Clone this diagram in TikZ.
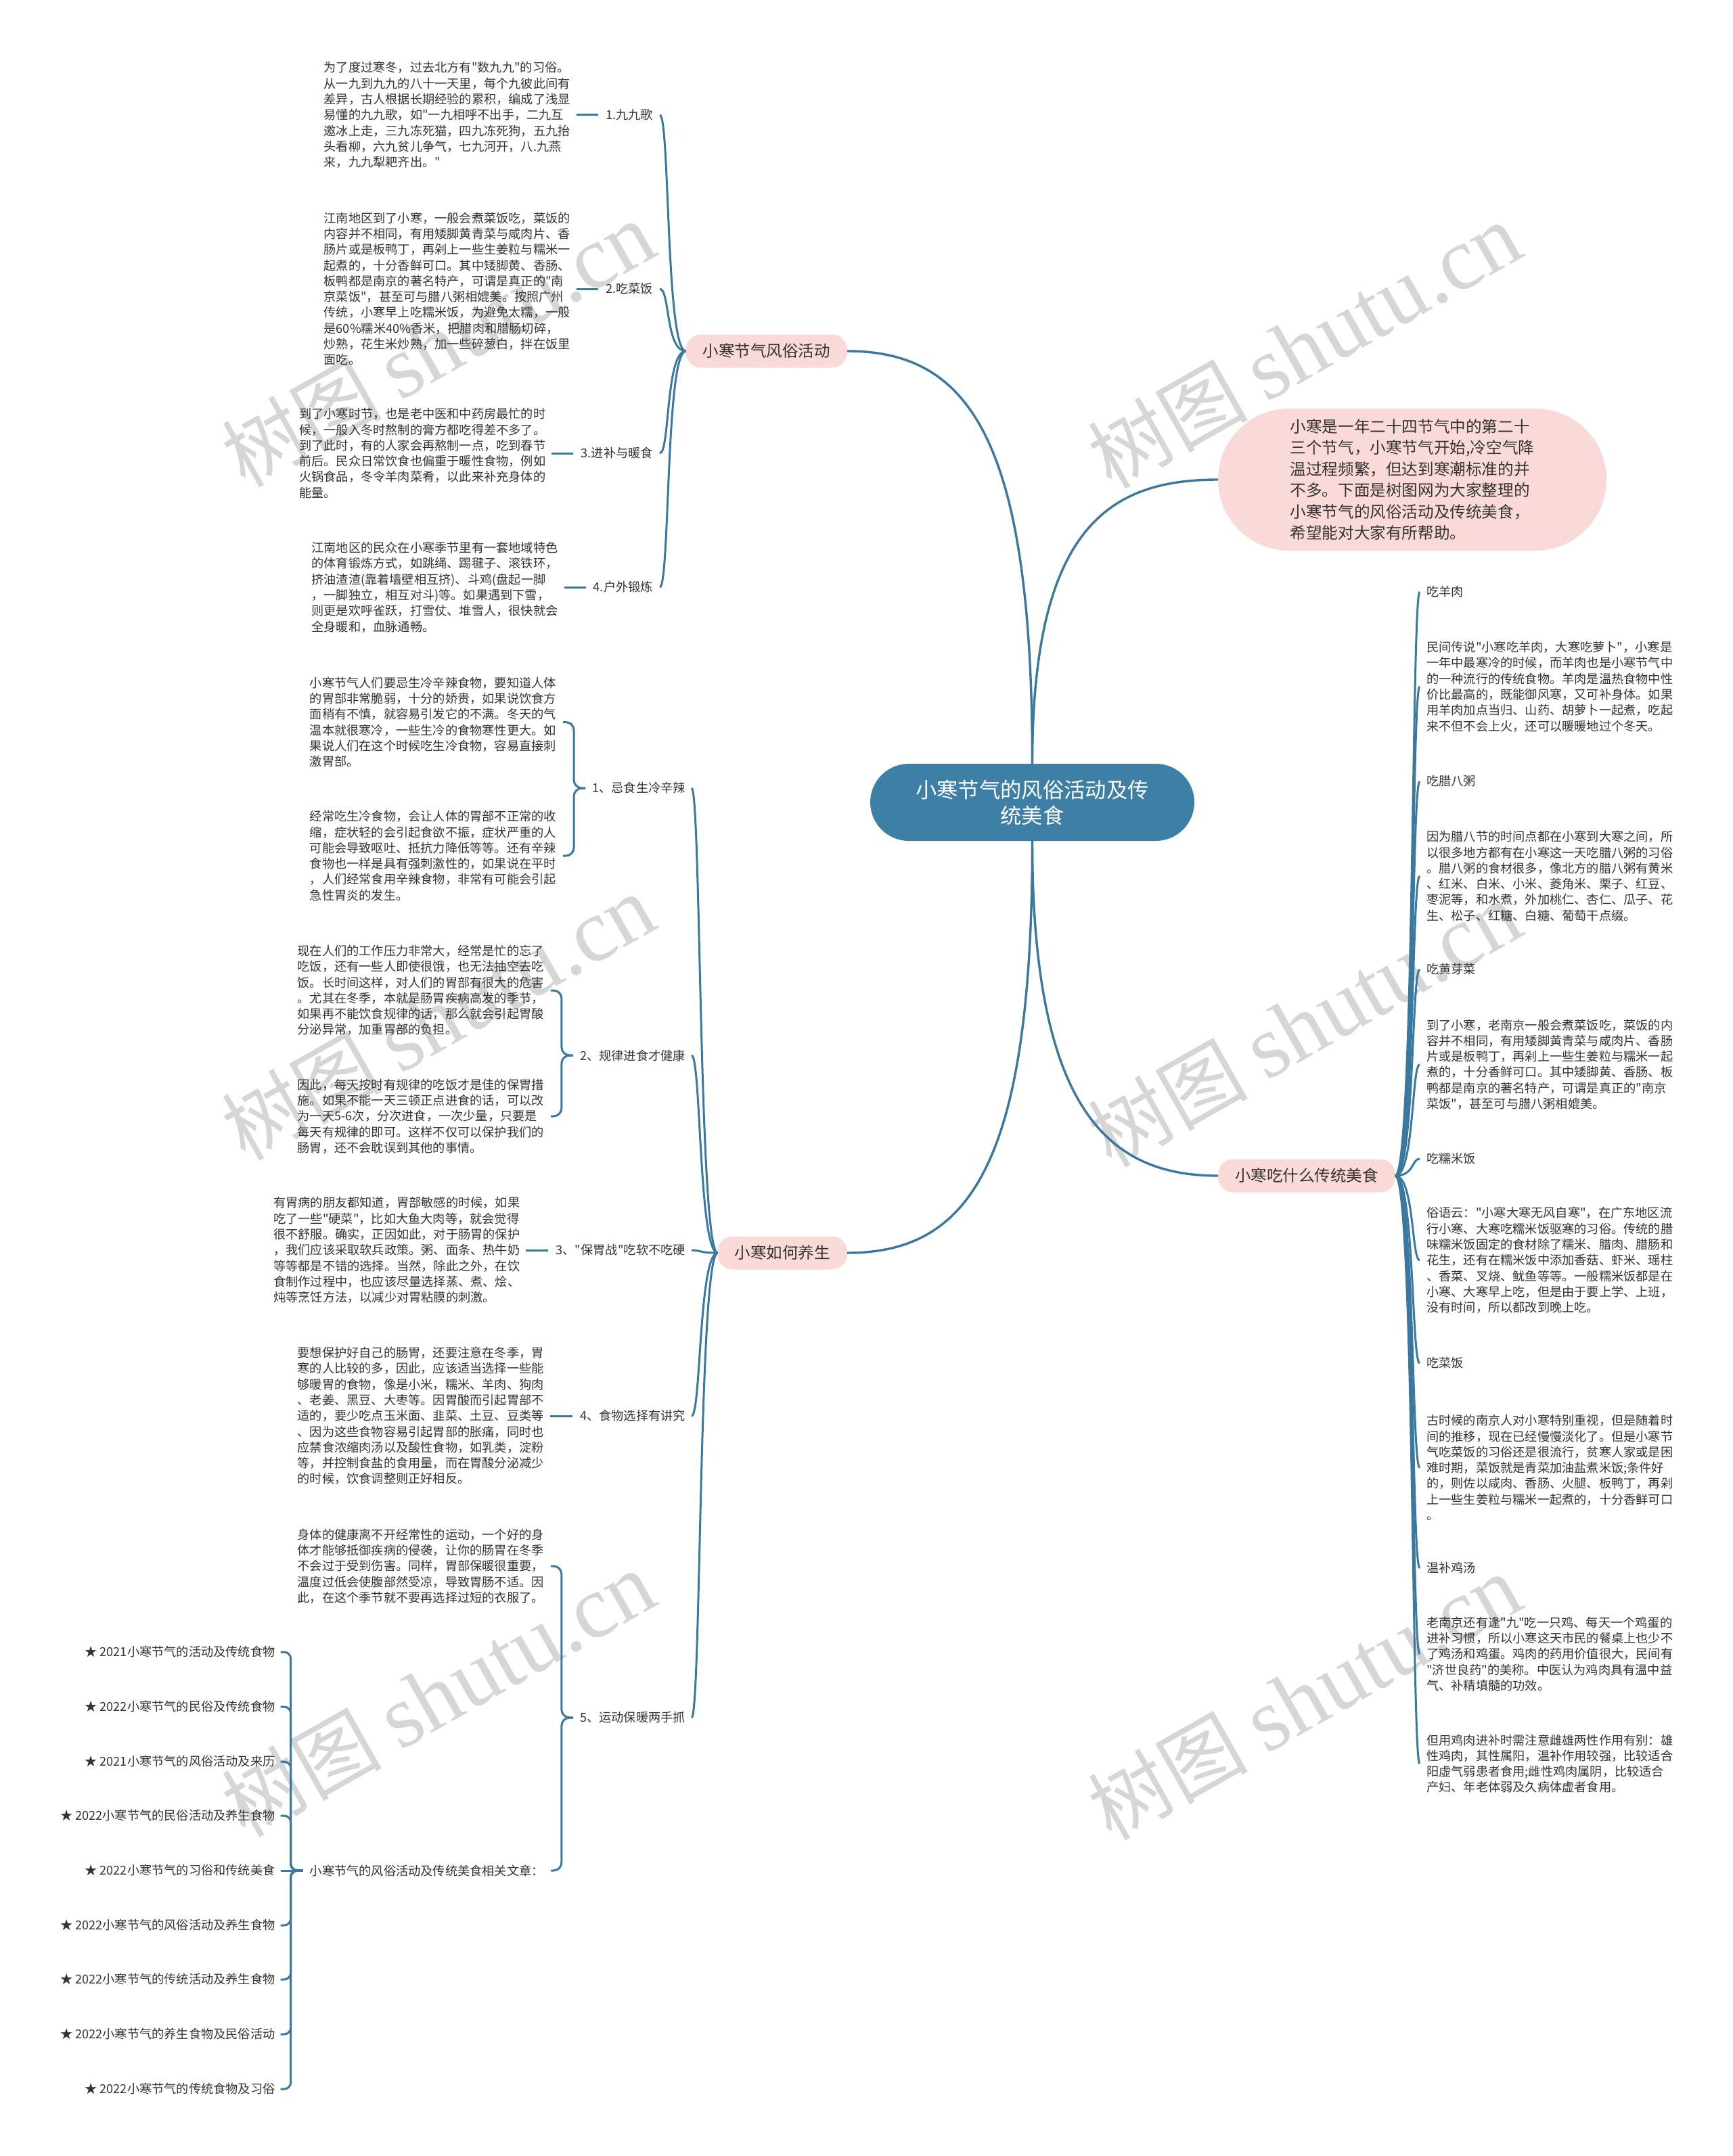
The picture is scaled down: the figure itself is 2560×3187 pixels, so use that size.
\documentclass[tikz,border=0pt]{standalone}
\usepackage{fontspec}
\setmainfont{Noto Sans CJK SC}[Ligatures=TeXOff]
\newfontfamily\wmlatin{Liberation Serif}
\definecolor{lineblue}{HTML}{3A78A0}
\definecolor{centblue}{HTML}{3E7FA6}
\definecolor{pinkbg}{HTML}{FAD9D9}
\definecolor{txtc}{HTML}{333333}
\begin{document}
\begin{tikzpicture}[x=1pt,y=-1pt,
 conn/.style={draw=lineblue,line width=3pt},
 maincon/.style={draw=lineblue,line width=3.4pt},
 txt/.style={align=left,inner sep=0pt,text=txtc,font=\fontsize{18.2}{23.3}\selectfont},
 lab/.style={inner sep=0pt,text=txtc,font=\fontsize{18.2}{23.3}\selectfont},
 branch/.style={fill=pinkbg,rounded corners=22pt,minimum height=49pt,inner xsep=25pt,inner ysep=0pt,text=txtc,font=\fontsize{23.5}{28}\selectfont},
 intro/.style={fill=pinkbg,rounded corners=105pt,minimum width=574pt,minimum height=210pt,inner sep=0pt,align=left,text=txtc,font=\fontsize{23.6}{31.5}\selectfont},
 central/.style={fill=centblue,rounded corners=57pt,minimum width=479pt,minimum height=114pt,inner sep=0pt,align=center,text=white,font=\fontsize{31.3}{38}\selectfont},
 wm/.style={rotate=29.5,text=black!16,inner sep=0pt,font=\fontsize{118}{118}\selectfont}
]
\useasboundingbox (0,0) rectangle (2560,3187);
\fill[white] (0,0) rectangle (2560,3187);

% watermarks
\node[wm] (W1) at (648,510) {树图 {\wmlatin\fontsize{132}{132}\selectfont shutu.cn}};
\node[wm] (W2) at (1928,512) {树图 {\wmlatin\fontsize{132}{132}\selectfont shutu.cn}};
\node[wm] (W3) at (648,1505) {树图 {\wmlatin\fontsize{132}{132}\selectfont shutu.cn}};
\node[wm] (W4) at (1928,1515) {树图 {\wmlatin\fontsize{132}{132}\selectfont shutu.cn}};
\node[wm] (W5) at (648,2505) {树图 {\wmlatin\fontsize{132}{132}\selectfont shutu.cn}};
\node[wm] (W6) at (1928,2510) {树图 {\wmlatin\fontsize{132}{132}\selectfont shutu.cn}};

% central, intro, branches
\node[central] (C) at (1525.5,1186) {小寒节气的风俗活动及传\\统美食};
\node[intro] (I) at (2087,709) {小寒是一年二十四节气中的第二十\\
三个节气，小寒节气开始,冷空气降\\
温过程频繁，但达到寒潮标准的并\\
不多。下面是树图网为大家整理的\\
小寒节气的风俗活动及传统美食，\\
希望能对大家有所帮助。};
\node[branch,anchor=east] (BA) at (1252,519) {小寒节气风俗活动};
\node[branch,anchor=east] (BB) at (1252,1852) {小寒如何养生};
\node[branch,anchor=west] (BC) at (1800,1738) {小寒吃什么传统美食};

\draw[maincon] (C.north) .. controls +(0,-480) and +(180,0) .. (BA.east);
\draw[maincon] (C.north) .. controls +(0,-350) and +(-160,0) .. (I.west);
\draw[maincon] (C.south) .. controls +(0,480) and +(180,0) .. (BB.east);
\draw[maincon] (C.south) .. controls +(0,400) and +(-160,0) .. (BC.west);

% ---------- branch A ----------
\node[lab,anchor=east] (A1) at (965,170) {1.九九歌};
\node[lab,anchor=east] (A2) at (965,427) {2.吃菜饭};
\node[lab,anchor=east] (A3) at (965,670) {3.进补与暖食};
\node[lab,anchor=east] (A4) at (965,868) {4.户外锻炼};

\node[txt,anchor=east] (A1t) at ([xshift=-52pt]A1.west) {为了度过寒冬，过去北方有"数九九"的习俗。\\
从一九到九九的八十一天里，每个九彼此间有\\
差异，古人根据长期经验的累积，编成了浅显\\
易懂的九九歌，如"一九相呼不出手，二九互\\
邀冰上走，三九冻死猫，四九冻死狗，五九抬\\
头看柳，六九贫儿争气，七九河开，八.九燕\\
来，九九犁耙齐出。"};
\node[txt,anchor=east] (A2t) at ([xshift=-52pt]A2.west) {江南地区到了小寒，一般会煮菜饭吃，菜饭的\\
内容并不相同，有用矮脚黄青菜与咸肉片、香\\
肠片或是板鸭丁，再剁上一些生姜粒与糯米一\\
起煮的，十分香鲜可口。其中矮脚黄、香肠、\\
板鸭都是南京的著名特产，可谓是真正的"南\\
京菜饭"，甚至可与腊八粥相媲美。按照广州\\
传统，小寒早上吃糯米饭，为避免太糯，一般\\
是60\%糯米40\%香米，把腊肉和腊肠切碎，\\
炒熟，花生米炒熟，加一些碎葱白，拌在饭里\\
面吃。};
\node[txt,anchor=east] (A3t) at ([xshift=-52pt]A3.west) {到了小寒时节，也是老中医和中药房最忙的时\\
候，一般入冬时熬制的膏方都吃得差不多了。\\
到了此时，有的人家会再熬制一点，吃到春节\\
前后。民众日常饮食也偏重于暖性食物，例如\\
火锅食品，冬令羊肉菜肴，以此来补充身体的\\
能量。};
\node[txt,anchor=east] (A4t) at ([xshift=-52pt]A4.west) {江南地区的民众在小寒季节里有一套地域特色\\
的体育锻炼方式，如跳绳、踢毽子、滚铁环，\\
挤油渣渣(靠着墙壁相互挤)、斗鸡(盘起一脚\\
，一脚独立，相互对斗)等。如果遇到下雪，\\
则更是欢呼雀跃，打雪仗、堆雪人，很快就会\\
全身暖和，血脉通畅。};

\foreach \n in {A1,A2,A3,A4}{
  \draw[conn] (BA.west) .. controls +(-30,0) and +(15,0) .. ([xshift=10pt]\n.east);
  \draw[conn] ([xshift=-11pt]\n.west) -- ([xshift=9pt]\n t.east);
}

% ---------- branch B ----------
\node[lab,anchor=east] (M1) at (1013,1165) {1、忌食生冷辛辣};
\node[lab,anchor=east] (M2) at (1013,1560) {2、规律进食才健康};
\node[lab,anchor=east] (M3) at (1013,1848) {3、"保胃战"吃软不吃硬};
\node[lab,anchor=east] (M4) at (1013,2093) {4、食物选择有讲究};
\node[lab,anchor=east] (M5) at (1013,2539) {5、运动保暖两手抓};

\foreach \n in {M1,M2,M3,M4,M5}{
  \draw[conn] (BB.west) .. controls +(-28,0) and +(14,0) .. ([xshift=9pt]\n.east);
}

\node[txt,anchor=east] (M1a) at ([xshift=-53pt,yshift=97.5pt]M1.west) {小寒节气人们要忌生冷辛辣食物，要知道人体\\
的胃部非常脆弱，十分的娇贵，如果说饮食方\\
面稍有不慎，就容易引发它的不满。冬天的气\\
温本就很寒冷，一些生冷的食物寒性更大。如\\
果说人们在这个时候吃生冷食物，容易直接刺\\
激胃部。};
\node[txt,anchor=east] (M1b) at ([xshift=-53pt,yshift=-100pt]M1.west) {经常吃生冷食物，会让人体的胃部不正常的收\\
缩，症状轻的会引起食欲不振，症状严重的人\\
可能会导致呕吐、抵抗力降低等等。还有辛辣\\
食物也一样是具有强刺激性的，如果说在平时\\
，人们经常食用辛辣食物，非常有可能会引起\\
急性胃炎的发生。};
\node[txt,anchor=east] (M2a) at ([xshift=-53pt,yshift=96pt]M2.west) {现在人们的工作压力非常大，经常是忙的忘了\\
吃饭，还有一些人即使很饿，也无法抽空去吃\\
饭。长时间这样，对人们的胃部有很大的危害\\
。尤其在冬季，本就是肠胃疾病高发的季节，\\
如果再不能饮食规律的话，那么就会引起胃酸\\
分泌异常，加重胃部的负担。};
\node[txt,anchor=east] (M2b) at ([xshift=-53pt,yshift=-90pt]M2.west) {因此，每天按时有规律的吃饭才是佳的保胃措\\
施。如果不能一天三顿正点进食的话，可以改\\
为一天5-6次，分次进食，一次少量，只要是\\
每天有规律的即可。这样不仅可以保护我们的\\
肠胃，还不会耽误到其他的事情。};
\node[txt,anchor=east] (M3t) at ([xshift=-53pt]M3.west) {有胃病的朋友都知道，胃部敏感的时候，如果\\
吃了一些"硬菜"，比如大鱼大肉等，就会觉得\\
很不舒服。确实，正因如此，对于肠胃的保护\\
，我们应该采取软兵政策。粥、面条、热牛奶\\
等等都是不错的选择。当然，除此之外，在饮\\
食制作过程中，也应该尽量选择蒸、煮、烩、\\
炖等烹饪方法，以减少对胃粘膜的刺激。};
\node[txt,anchor=east] (M4t) at ([xshift=-53pt]M4.west) {要想保护好自己的肠胃，还要注意在冬季，胃\\
寒的人比较的多，因此，应该适当选择一些能\\
够暖胃的食物，像是小米，糯米、羊肉、狗肉\\
、老姜、黑豆、大枣等。因胃酸而引起胃部不\\
适的，要少吃点玉米面、韭菜、土豆、豆类等\\
、因为这些食物容易引起胃部的胀痛，同时也\\
应禁食浓缩肉汤以及酸性食物，如乳类，淀粉\\
等，并控制食盐的食用量，而在胃酸分泌减少\\
的时候，饮食调整则正好相反。};
\node[txt,anchor=east] (M5a) at ([xshift=-53pt,yshift=224pt]M5.west) {身体的健康离不开经常性的运动，一个好的身\\
体才能够抵御疾病的侵袭，让你的肠胃在冬季\\
不会过于受到伤害。同样，胃部保暖很重要，\\
温度过低会使腹部然受凉，导致胃肠不适。因\\
此，在这个季节就不要再选择过短的衣服了。};
\node[lab,anchor=east] (REL) at ([xshift=-53pt,yshift=-226pt]M5.west) {小寒节气的风俗活动及传统美食相关文章：};

\draw[conn] ([xshift=-11pt]M3.west) -- ([xshift=9pt]M3t.east);
\draw[conn] ([xshift=-11pt]M4.west) -- ([xshift=9pt]M4t.east);

\coordinate (M1v) at ([xshift=-27pt]M1.west);
\coordinate (M2v) at ([xshift=-27pt]M2.west);
\coordinate (M5v) at ([xshift=-27pt]M5.west);
\draw[conn,rounded corners=12pt] ([xshift=-10pt]M1.west) -- (M1v) |- ([xshift=10pt]M1a.east);
\draw[conn,rounded corners=12pt] ([xshift=-10pt]M1.west) -- (M1v) |- ([xshift=10pt]M1b.east);
\draw[conn,rounded corners=12pt] ([xshift=-10pt]M2.west) -- (M2v) |- ([xshift=10pt]M2a.east);
\draw[conn,rounded corners=12pt] ([xshift=-10pt]M2.west) -- (M2v) |- ([xshift=10pt]M2b.east);
\draw[conn,rounded corners=12pt] ([xshift=-10pt]M5.west) -- (M5v) |- ([xshift=10pt]M5a.east);
\draw[conn,rounded corners=12pt] ([xshift=-10pt]M5.west) -- (M5v) |- ([xshift=10pt]REL.east);

% related list
\node[lab,anchor=east] (R1) at ([xshift=-51pt,yshift=323pt]REL.west) {★ 2021小寒节气的活动及传统食物};
\node[lab,anchor=east] (R2) at ([xshift=-51pt,yshift=242pt]REL.west) {★ 2022小寒节气的民俗及传统食物};
\node[lab,anchor=east] (R3) at ([xshift=-51pt,yshift=161pt]REL.west) {★ 2021小寒节气的风俗活动及来历};
\node[lab,anchor=east] (R4) at ([xshift=-51pt,yshift=81pt]REL.west) {★ 2022小寒节气的民俗活动及养生食物};
\node[lab,anchor=east] (R5) at ([xshift=-51pt]REL.west) {★ 2022小寒节气的习俗和传统美食};
\node[lab,anchor=east] (R6) at ([xshift=-51pt,yshift=-81pt]REL.west) {★ 2022小寒节气的风俗活动及养生食物};
\node[lab,anchor=east] (R7) at ([xshift=-51pt,yshift=-161pt]REL.west) {★ 2022小寒节气的传统活动及养生食物};
\node[lab,anchor=east] (R8) at ([xshift=-51pt,yshift=-242pt]REL.west) {★ 2022小寒节气的养生食物及民俗活动};
\node[lab,anchor=east] (R9) at ([xshift=-51pt,yshift=-323pt]REL.west) {★ 2022小寒节气的传统食物及习俗};
\coordinate (Rv) at ([xshift=-28pt]REL.west);
\foreach \n in {R1,R2,R3,R4,R6,R7,R8,R9}{
  \draw[conn,rounded corners=10pt] ([xshift=-10pt]REL.west) -- (Rv) |- ([xshift=8pt]\n.east);
}
\draw[conn] ([xshift=-10pt]REL.west) -- ([xshift=8pt]R5.east);

% ---------- branch C ----------
\node[lab,anchor=west] (F1) at (2108,875) {吃羊肉};
\node[txt,anchor=west] (F1t) at (2108,1015) {民间传说"小寒吃羊肉，大寒吃萝卜"，小寒是\\
一年中最寒冷的时候，而羊肉也是小寒节气中\\
的一种流行的传统食物。羊肉是温热食物中性\\
价比最高的，既能御风寒，又可补身体。如果\\
用羊肉加点当归、山药、胡萝卜一起煮，吃起\\
来不但不会上火，还可以暖暖地过个冬天。};
\node[lab,anchor=west] (F2) at (2108,1155) {吃腊八粥};
\node[txt,anchor=west] (F2t) at (2108,1295) {因为腊八节的时间点都在小寒到大寒之间，所\\
以很多地方都有在小寒这一天吃腊八粥的习俗\\
。腊八粥的食材很多，像北方的腊八粥有黄米\\
、红米、白米、小米、菱角米、栗子、红豆、\\
枣泥等，和水煮，外加桃仁、杏仁、瓜子、花\\
生、松子、红糖、白糖、葡萄干点缀。};
\node[lab,anchor=west] (F3) at (2108,1433) {吃黄芽菜};
\node[txt,anchor=west] (F3t) at (2108,1573.5) {到了小寒，老南京一般会煮菜饭吃，菜饭的内\\
容并不相同，有用矮脚黄青菜与咸肉片、香肠\\
片或是板鸭丁，再剁上一些生姜粒与糯米一起\\
煮的，十分香鲜可口。其中矮脚黄、香肠、板\\
鸭都是南京的著名特产，可谓是真正的"南京\\
菜饭"，甚至可与腊八粥相媲美。};
\node[lab,anchor=west] (F4) at (2108,1713) {吃糯米饭};
\node[txt,anchor=west] (F4t) at (2108,1863) {俗语云："小寒大寒无风自寒"，在广东地区流\\
行小寒、大寒吃糯米饭驱寒的习俗。传统的腊\\
味糯米饭固定的食材除了糯米、腊肉、腊肠和\\
花生，还有在糯米饭中添加香菇、虾米、瑶柱\\
、香菜、叉烧、鱿鱼等等。一般糯米饭都是在\\
小寒、大寒早上吃，但是由于要上学、上班，\\
没有时间，所以都改到晚上吃。};
\node[lab,anchor=west] (F5) at (2108,2015) {吃菜饭};
\node[txt,anchor=west] (F5t) at (2108,2169.5) {古时候的南京人对小寒特别重视，但是随着时\\
间的推移，现在已经慢慢淡化了。但是小寒节\\
气吃菜饭的习俗还是很流行，贫寒人家或是困\\
难时期，菜饭就是青菜加油盐煮米饭;条件好\\
的，则佐以咸肉、香肠、火腿、板鸭丁，再剁\\
上一些生姜粒与糯米一起煮的，十分香鲜可口\\
。};
\node[lab,anchor=west] (F6) at (2108,2318) {温补鸡汤};
\node[txt,anchor=west] (F6a) at (2108,2445) {老南京还有逢"九"吃一只鸡、每天一个鸡蛋的\\
进补习惯，所以小寒这天市民的餐桌上也少不\\
了鸡汤和鸡蛋。鸡肉的药用价值很大，民间有\\
"济世良药"的美称。中医认为鸡肉具有温中益\\
气、补精填髓的功效。};
\node[txt,anchor=west] (F6b) at (2108,2607) {但用鸡肉进补时需注意雌雄两性作用有别：雄\\
性鸡肉，其性属阳，温补作用较强，比较适合\\
阳虚气弱患者食用;雌性鸡肉属阴，比较适合\\
产妇、年老体弱及久病体虚者食用。};

\foreach \n in {F1,F1t,F2,F2t,F3,F3t,F4,F4t,F5,F5t,F6,F6a,F6b}{
  \draw[conn] (BC.east) .. controls +(28,0) and +(-12,0) .. ([xshift=-10pt]\n.west);
}
\end{tikzpicture}
\end{document}
